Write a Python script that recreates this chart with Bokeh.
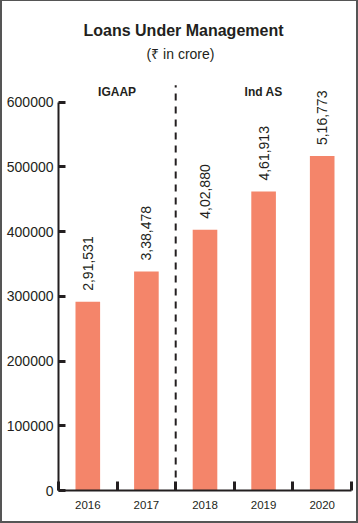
import math
from bokeh.plotting import figure
from bokeh.models import (ColumnDataSource, Range1d, FixedTicker, LinearAxis,
                          LabelSet, Label)
from bokeh.core.properties import value
from bokeh.embed import file_html
from bokeh.resources import INLINE

# ---- data ----
years = ["2016", "2017", "2018", "2019", "2020"]
loans = [291531, 338478, 402880, 461913, 516773]
loan_labels = ["2,91,531", "3,38,478", "4,02,880", "4,61,913", "5,16,773"]
groups = ["IGAAP", "Ind AS"]
group_first = ["2016", "2018"]
group_last = ["2017", "2020"]
y_ticks = [0, 100000, 200000, 300000, 400000, 500000, 600000]
y_tick_labels = ["0", "100000", "200000", "300000", "400000", "500000", "600000"]
title_text = "Loans Under Management"
subtitle_text = "(\u20b9 in crore)"

BAR = "#F4856A"
INK = "#231f20"
FONT = "Liberation Sans"
SEPARATOR_TOP = 626000  # top end of the dashed IGAAP / Ind AS divider

idx = {y: i for i, y in enumerate(years)}
centers = [idx[y] + 0.5 for y in years]

src = ColumnDataSource(dict(x=centers, top=loans, lab=loan_labels))

p = figure(width=358, height=523, output_backend="svg", toolbar_location=None,
           x_range=Range1d(0, len(years)), y_range=Range1d(0, 755600),
           x_axis_type=None, y_axis_type=None, title=None,
           min_border_left=56, min_border_right=9, min_border_top=0,
           min_border_bottom=34)
p.styles = {"border": "2px solid #555", "border-top-width": "1px"}
p.outline_line_color = None
p.background_fill_color = "white"
p.border_fill_color = "white"
p.grid.visible = False

p.vbar(x="x", top="top", width=0.42, source=src, fill_color=BAR,
       line_color=None)

# axes
xa = LinearAxis(ticker=FixedTicker(ticks=centers,
                                   minor_ticks=list(range(len(years) + 1))))
xa.major_label_overrides = {c: y for c, y in zip(centers, years)}
xa.major_tick_in = 0
xa.major_tick_out = 0
xa.minor_tick_in = 9
xa.minor_tick_out = 0
xa.minor_tick_line_width = 3
xa.minor_tick_line_color = INK
xa.axis_line_width = 2
xa.axis_line_color = INK
xa.major_label_text_font = FONT
xa.major_label_text_font_size = "11.5px"
xa.major_label_text_color = INK
xa.major_label_standoff = 10
p.add_layout(xa, "below")

ya = LinearAxis(ticker=FixedTicker(ticks=y_ticks), bounds=(0, y_ticks[-1]))
ya.major_label_overrides = {t: l for t, l in zip(y_ticks, y_tick_labels)}
ya.major_tick_in = 7
ya.major_tick_out = 0
ya.major_tick_line_width = 3
ya.major_tick_line_color = INK
ya.minor_tick_line_color = None
ya.axis_line_width = 2
ya.axis_line_color = INK
ya.major_label_text_font = FONT
ya.major_label_text_font_size = "14px"
ya.major_label_text_color = INK
ya.major_label_standoff = 5
p.add_layout(ya, "left")

# value labels
p.add_layout(LabelSet(x="x", y="top", text="lab", source=src, angle=math.pi / 2,
                      text_align="left", text_baseline="middle", y_offset=11,
                      text_font=value(FONT), text_font_size="14px",
                      text_color=INK))

# dashed divider between accounting regimes
b = idx[group_first[1]]
p.segment(x0=[b], x1=[b], y0=[0], y1=[SEPARATOR_TOP], line_color=INK,
          line_width=2, line_dash="7 6")

# group labels
gx = [(idx[a] + idx[b2] + 1) / 2 for a, b2 in zip(group_first, group_last)]
gsrc = ColumnDataSource(dict(x=gx, y=[y_ticks[-1]] * len(groups), t=groups))
p.add_layout(LabelSet(x="x", y="y", text="t", source=gsrc, text_align="center",
                      text_baseline="middle", y_offset=10,
                      text_font=value(FONT), text_font_size="12px",
                      text_font_style="bold", text_color=INK))

# titles (screen units)
p.add_layout(Label(x=125, y=460, x_units="screen", y_units="screen",
                   text=title_text, text_align="center", text_baseline="middle",
                   text_font=FONT, text_font_size="16px",
                   text_font_style="bold", text_color=INK))
p.add_layout(Label(x=122, y=437, x_units="screen", y_units="screen",
                   text=subtitle_text, text_align="center",
                   text_baseline="middle", text_font=FONT,
                   text_font_size="14px", text_color=INK))

open("out.html", "w").write(file_html(p, INLINE))
